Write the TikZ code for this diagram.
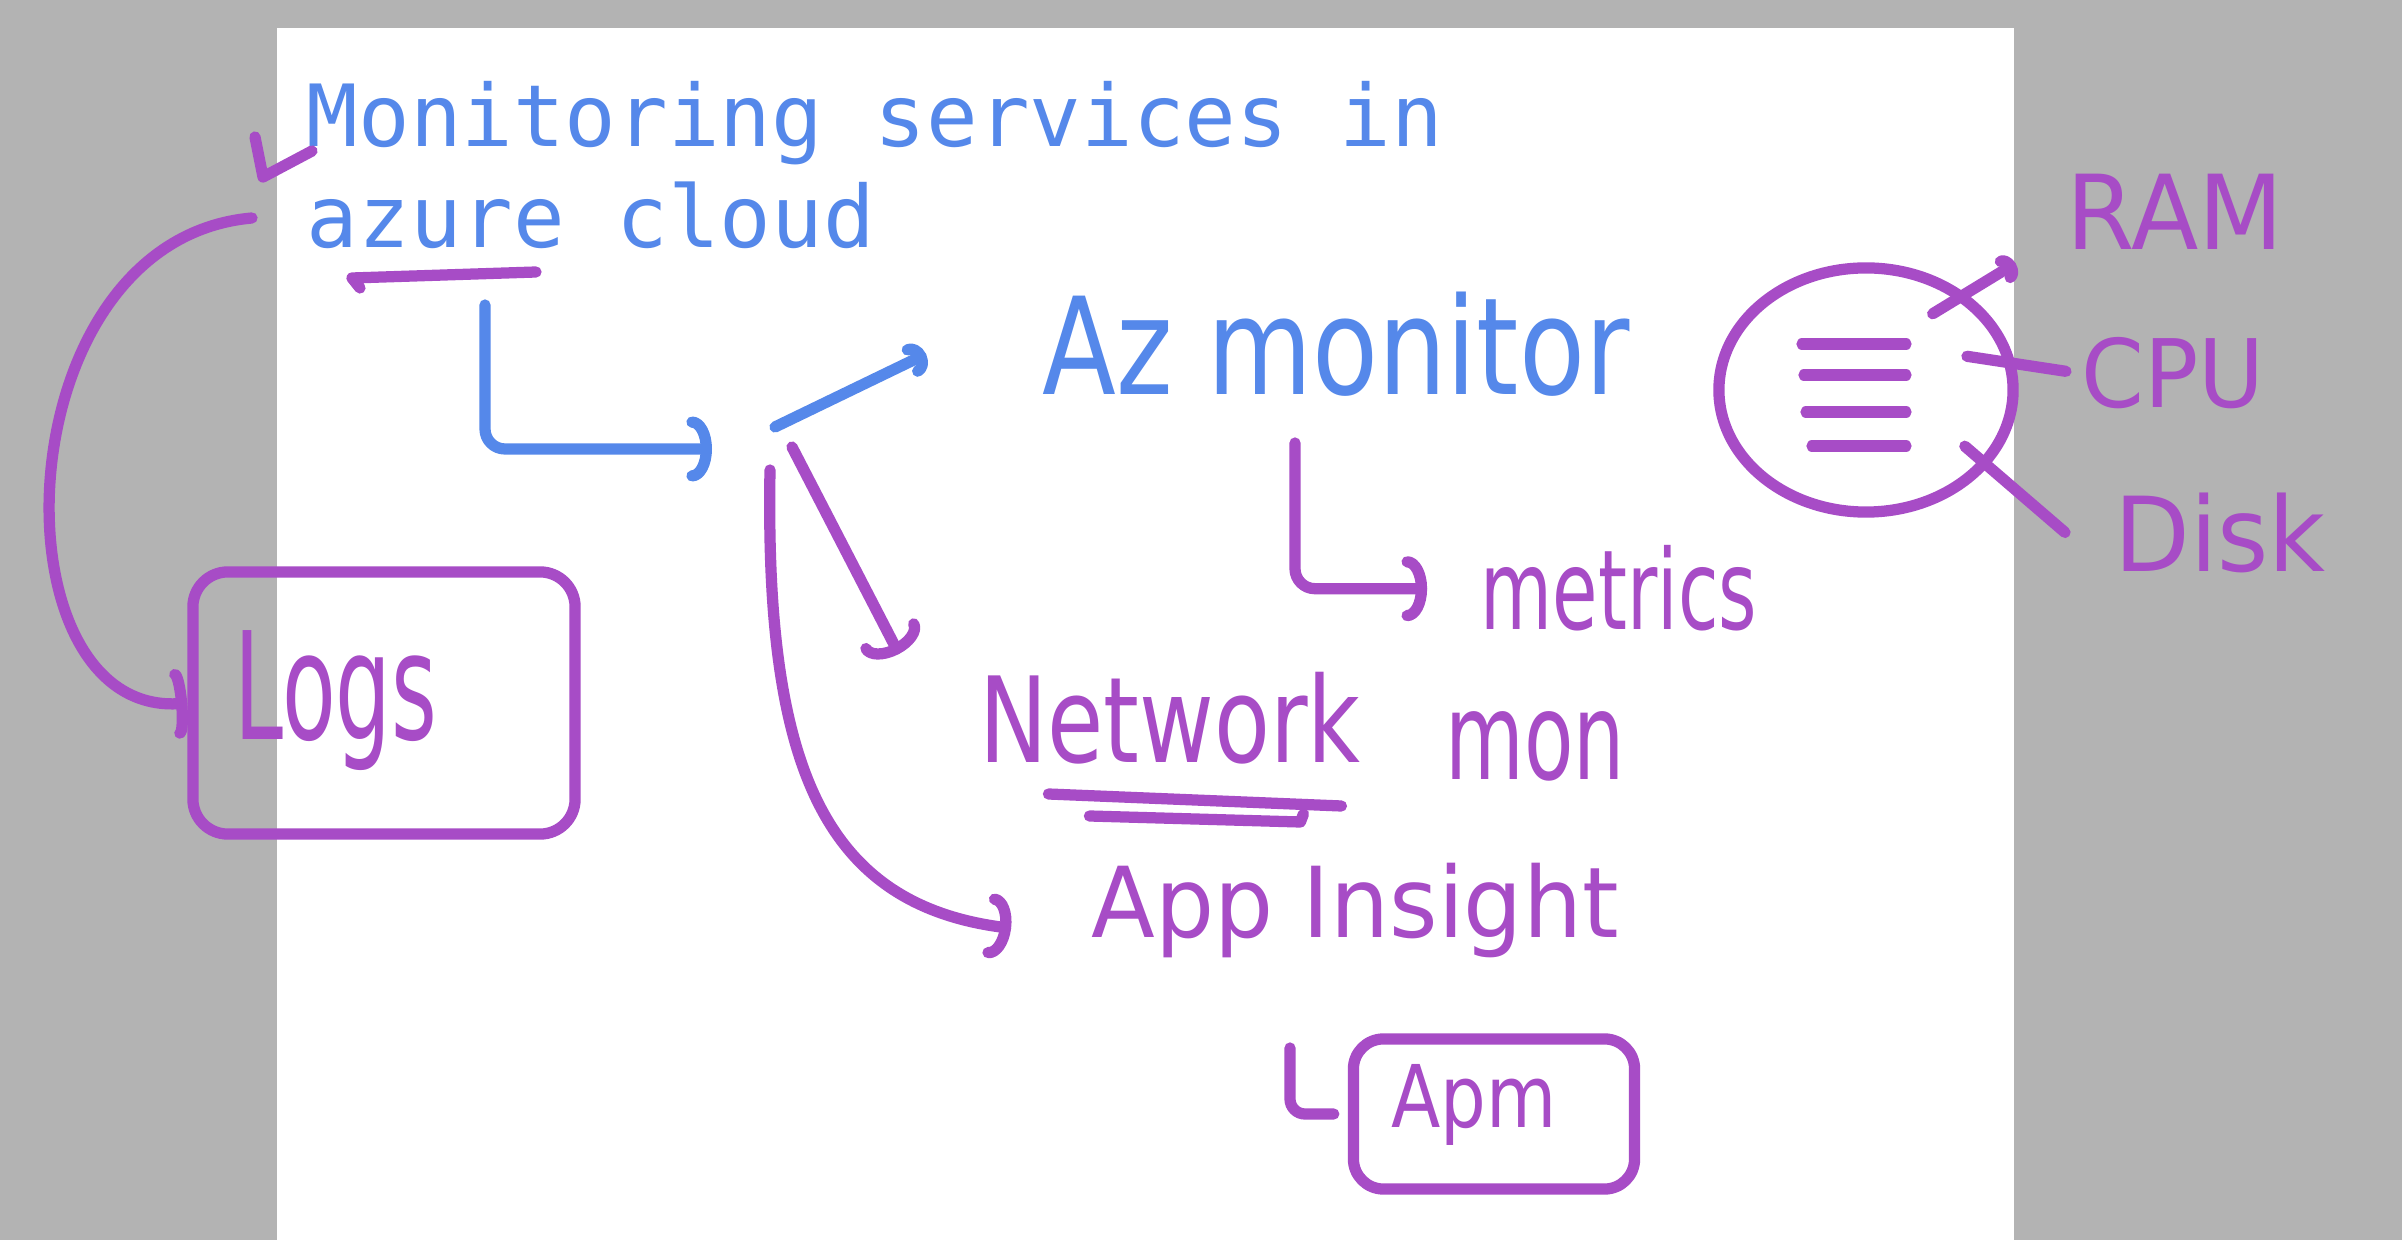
\documentclass[tikz,border=0pt]{standalone}
\usepackage{fontspec}
\newfontfamily\handfont{DejaVu Sans}
\newfontfamily\titlefont{DejaVu Sans Mono}
\usetikzlibrary{arrows.meta,shapes.geometric}
\definecolor{penpurple}{RGB}{167,76,198}
\definecolor{penblue}{RGB}{85,136,234}
\definecolor{canvasgray}{RGB}{179,179,179}

\begin{document}
\begin{tikzpicture}[x=0.01cm, y=-0.01cm,
    pen/.style={draw=penpurple, line width=3.2pt, line cap=round, line join=round},
    bluepen/.style={pen, draw=penblue},
    hand/.style 2 args={font=\handfont\fontsize{#1}{#1}\selectfont, yscale=#2,
        text=penpurple, inner sep=0pt, anchor=base},
    title/.style={font=\titlefont\fontsize{24.4}{24.4}\selectfont,
        text=penblue, inner sep=0pt, anchor=base west},
    box/.style={pen, rounded corners=0.35cm, inner sep=0pt},
    >={Arc Barb[length=2mm, width=6.5mm, round]}
]
\useasboundingbox (0,0) rectangle (2402,1240);
\fill[canvasgray] (0,0) rectangle (2402,1240);
\fill[white] (277,28) rectangle (2014,1240);

% title
\node[title] (title1) at (306,147) {Monitoring services in};
\node[title] (title2) at (306,248) {azure cloud};
\draw[pen] ([shift={(230,24)}]title2.base west) -- ++(-184,6) -- ++(8,10);

% boxes and the server circle
\node[box, minimum width=3.82cm, minimum height=2.62cm] (logsbox) at (384,703) {};
\node[box, rounded corners=0.3cm, minimum width=2.81cm, minimum height=1.5cm] (apmbox) at (1494,1114) {};
\node[pen, ellipse, minimum width=2.94cm, minimum height=2.44cm, inner sep=0pt] (srv) at (1866,390) {};
\foreach \dx/\dy in {-64/-46,-62/-15,-60/22,-54/56}
    \draw[pen] ([shift={(\dx,\dy)}]srv.center) -- ([shift={(40,\dy)}]srv.center);

% handwritten labels
\node[hand={30.7}{1.25}, text=penblue] (azmon) at (1336,395) {Az monitor};
\node[hand={21}{1.5}] (metrics) at (1619,630) {metrics};
\node[hand={26}{1.3}] (network) at (1170,763) {Network};
\node[hand={23}{1.5}] (netmon) at (1535,780) {mon};
\node[hand={26.5}{1.05}] (appin) at (1355,938) {App Insight};
\node[hand={20.5}{1.2}] (apm) at (1474,1127) {Apm};
\node[hand={25}{1.7}] (logs) at (336,740) {Logs};
\node[hand={28}{1.05}] (ram) at (2175,250) {RAM};
\node[hand={25.6}{1.05}] (cpu) at (2173,408) {CPU};
\node[hand={28}{1.05}] (disk) at (2220,572) {Disk};

\draw[pen] ([shift={(70,31)}]network.base west) -- ++(293,12);
\draw[pen] ([shift={(111,53)}]network.base west) -- ++(211,6) -- ++(3,-8);

% free ends of the sketched arrows
\coordinate (cloudl) at (485,305);
\coordinate (hub) at (712,449);
\coordinate (hubn) at (775,427);
\coordinate (hubs) at (792,447);
\coordinate (hubsw) at (770,470);
\coordinate (azend) at (926,354);
\coordinate (netend) at (899,654);
\coordinate (metl) at (1295,443);
\coordinate (apml) at (1290,1048);
\coordinate (logsfrom) at (252,218);
\coordinate (titlemark) at (255,137);

\draw[bluepen, ->, rounded corners=0.2cm] (cloudl) |- (hub);
\draw[bluepen, -{Arc Barb[length=1.5mm, width=3.5mm, round]}] (hubn) -- (azend);
\draw[pen, ->] (hubs) -- (netend);
\draw[pen, ->, shorten >=0.8cm] (hubsw) .. controls (765,760) and (820,905) .. (appin.base west);
\draw[pen, ->, rounded corners=0.2cm, shorten >=0.53cm] (metl) |- (metrics.west);
\draw[pen, rounded corners=0.15cm, shorten >=0.14cm] (apml) |- (apmbox.west);

\draw[pen, -{Arc Barb[length=1.2mm, width=3mm, round]}, shorten <=-0.39cm, shorten >=0.59cm]
    (srv.44) -- (ram.190);
\draw[pen, shorten <=-0.49cm, shorten >=0.15cm] (srv.10) -- (cpu.west);
\draw[pen, shorten <=-0.31cm, shorten >=0.64cm] (srv.-32) -- (disk.south west);

\draw[pen, -{Arc Barb[length=1mm, width=7mm, round]}]
    (logsfrom) .. controls (0,240) and (-10,720) .. (logsbox.west);
\draw[pen] (titlemark) -- ++(8,40) -- ++(49,-26);
\end{tikzpicture}
\end{document}
